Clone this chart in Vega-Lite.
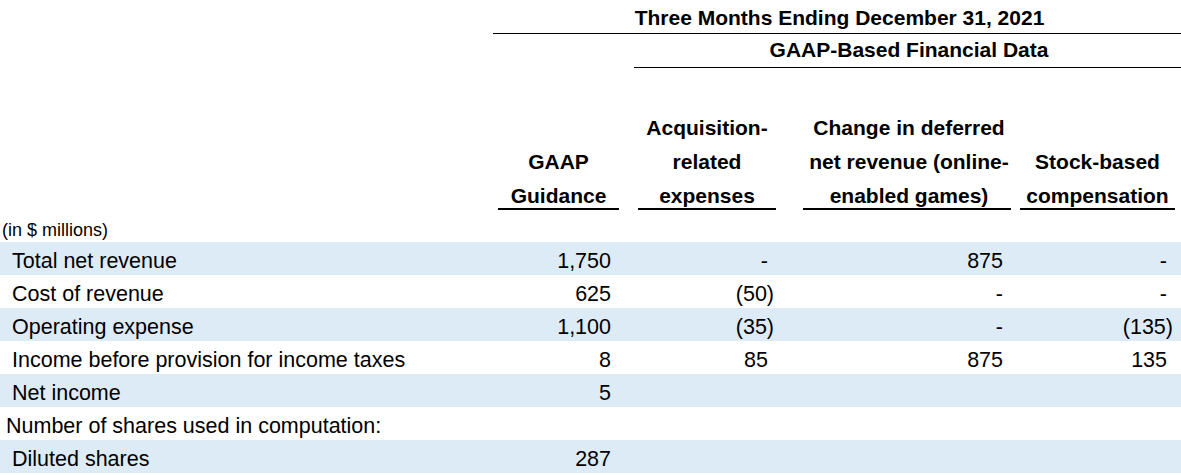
{
  "$schema": "https://vega.github.io/schema/vega-lite/v6.json",
  "width": 1181,
  "height": 475,
  "autosize": {"type": "none"},
  "padding": 0,
  "background": "white",
  "config": {"view": {"stroke": null}, "font": "Liberation Sans", "text": {"font": "Liberation Sans"}},
  "datasets": {
    "rows": [
      {"row": "Total net revenue", "i": 0, "level": 1},
      {"row": "Cost of revenue", "i": 1, "level": 1},
      {"row": "Operating expense", "i": 2, "level": 1},
      {"row": "Income before provision for income taxes", "i": 3, "level": 1},
      {"row": "Net income", "i": 4, "level": 1},
      {"row": "Number of shares used in computation:", "i": 5, "level": 0},
      {"row": "Diluted shares", "i": 6, "level": 1}
    ],
    "columns": [
      {"col": "GAAP Guidance", "left": 4, "right": 5, "center": 4.5},
      {"col": "Acquisition-related expenses", "left": 7, "right": 8, "center": 7.5},
      {"col": "Change in deferred net revenue (online-enabled games)", "left": 9, "right": 12, "center": 11},
      {"col": "Stock-based compensation", "left": 13, "right": 14, "center": 13.5}
    ],
    "cells": [
      {"row": "Total net revenue", "col": "GAAP Guidance", "v": 1750},
      {"row": "Total net revenue", "col": "Acquisition-related expenses", "v": 0},
      {"row": "Total net revenue", "col": "Change in deferred net revenue (online-enabled games)", "v": 875},
      {"row": "Total net revenue", "col": "Stock-based compensation", "v": 0},
      {"row": "Cost of revenue", "col": "GAAP Guidance", "v": 625},
      {"row": "Cost of revenue", "col": "Acquisition-related expenses", "v": -50},
      {"row": "Cost of revenue", "col": "Change in deferred net revenue (online-enabled games)", "v": 0},
      {"row": "Cost of revenue", "col": "Stock-based compensation", "v": 0},
      {"row": "Operating expense", "col": "GAAP Guidance", "v": 1100},
      {"row": "Operating expense", "col": "Acquisition-related expenses", "v": -35},
      {"row": "Operating expense", "col": "Change in deferred net revenue (online-enabled games)", "v": 0},
      {"row": "Operating expense", "col": "Stock-based compensation", "v": -135},
      {"row": "Income before provision for income taxes", "col": "GAAP Guidance", "v": 8},
      {"row": "Income before provision for income taxes", "col": "Acquisition-related expenses", "v": 85},
      {"row": "Income before provision for income taxes", "col": "Change in deferred net revenue (online-enabled games)", "v": 875},
      {"row": "Income before provision for income taxes", "col": "Stock-based compensation", "v": 135},
      {"row": "Net income", "col": "GAAP Guidance", "v": 5},
      {"row": "Diluted shares", "col": "GAAP Guidance", "v": 287}
    ],
    "heads": [
      {"col": "GAAP Guidance", "line": 5, "text": "GAAP"},
      {"col": "GAAP Guidance", "line": 6, "text": "Guidance"},
      {"col": "Acquisition-related expenses", "line": 4, "text": "Acquisition-"},
      {"col": "Acquisition-related expenses", "line": 5, "text": "related"},
      {"col": "Acquisition-related expenses", "line": 6, "text": "expenses"},
      {"col": "Change in deferred net revenue (online-enabled games)", "line": 4, "text": "Change in deferred"},
      {"col": "Change in deferred net revenue (online-enabled games)", "line": 5, "text": "net revenue (online-"},
      {"col": "Change in deferred net revenue (online-enabled games)", "line": 6, "text": "enabled games)"},
      {"col": "Stock-based compensation", "line": 5, "text": "Stock-based"},
      {"col": "Stock-based compensation", "line": 6, "text": "compensation"}
    ],
    "spans": [
      {"text": "Three Months Ending December 31, 2021", "line": 0, "mid": 10, "from": 3, "to": 15, "rule": 1},
      {"text": "GAAP-Based Financial Data", "line": 2, "mid": 11, "from": 6, "to": 15, "rule": 3}
    ],
    "notes": [
      {"text": "(in $ millions)", "line": 8}
    ]
  },
  "resolve": {"scale": {"y": "independent"}},
  "layer": [
    {
      "layer": [
        {
          "data": {"name": "spans"},
          "mark": {"type": "text", "fontSize": 21, "fontWeight": "bold", "align": "center", "baseline": "alphabetic", "color": "black"},
          "encoding": {
            "x": {"field": "mid", "type": "quantitative", "axis": null, "scale": {"domain": [0,1,2,3,4,5,6,7,8,9,10,11,12,13,14,15], "range": [0,6,12,493,498,619,634,638,776,803,839.5,909,1011,1020,1175,1181], "nice": false, "zero": false}},
            "y": {"field": "line", "type": "quantitative", "axis": null, "scale": {"domain": [0,1,2,3,4,5,6,7,8], "range": [25,33.5,57,67.5,135,169,203,209,236], "nice": false, "zero": false}},
            "text": {"field": "text"}
          }
        },
        {
          "data": {"name": "spans"},
          "mark": {"type": "rule", "color": "black", "strokeWidth": 1},
          "encoding": {
            "x": {"field": "from", "type": "quantitative", "axis": null},
            "x2": {"field": "to"},
            "y": {"field": "rule", "type": "quantitative", "axis": null}
          }
        },
        {
          "data": {"name": "heads"},
          "transform": [{"lookup": "col", "from": {"data": {"name": "columns"}, "key": "col", "fields": ["center"]}}],
          "mark": {"type": "text", "fontSize": 21, "fontWeight": "bold", "align": "center", "baseline": "alphabetic", "color": "black"},
          "encoding": {
            "x": {"field": "center", "type": "quantitative", "axis": null},
            "y": {"field": "line", "type": "quantitative", "axis": null},
            "text": {"field": "text"}
          }
        },
        {
          "data": {"name": "columns"},
          "mark": {"type": "rule", "color": "black", "strokeWidth": 2},
          "encoding": {
            "x": {"field": "left", "type": "quantitative", "axis": null},
            "x2": {"field": "right"},
            "y": {"datum": 7, "type": "quantitative", "axis": null}
          }
        },
        {
          "data": {"name": "notes"},
          "mark": {"type": "text", "fontSize": 18, "align": "left", "baseline": "alphabetic", "dx": 2, "color": "black"},
          "encoding": {
            "x": {"datum": 0, "type": "quantitative", "axis": null},
            "y": {"field": "line", "type": "quantitative", "axis": null},
            "text": {"field": "text"}
          }
        }
      ]
    },
    {
      "layer": [
        {
          "data": {"name": "rows"},
          "transform": [{"filter": "datum.i % 2 == 0"}],
          "mark": {"type": "rect", "color": "#DDEBF7"},
          "encoding": {
            "x": {"datum": 0, "type": "quantitative", "axis": null},
            "x2": {"datum": 15},
            "y": {"field": "row", "type": "nominal", "axis": null, "sort": null, "scale": {"type": "band", "domain": ["Total net revenue", "Cost of revenue", "Operating expense", "Income before provision for income taxes", "Net income", "Number of shares used in computation:", "Diluted shares"], "range": [242, 473], "paddingInner": 0, "paddingOuter": 0}}
          }
        },
        {
          "data": {"name": "rows"},
          "transform": [{"filter": "datum.level == 1"}],
          "mark": {"type": "text", "fontSize": 21.5, "align": "left", "baseline": "alphabetic", "dy": 9, "color": "black"},
          "encoding": {
            "x": {"datum": 2, "type": "quantitative", "axis": null},
            "y": {"field": "row", "type": "nominal", "axis": null},
            "text": {"field": "row"}
          }
        },
        {
          "data": {"name": "rows"},
          "transform": [{"filter": "datum.level == 0"}],
          "mark": {"type": "text", "fontSize": 21.5, "align": "left", "baseline": "alphabetic", "dy": 9, "color": "black"},
          "encoding": {
            "x": {"datum": 1, "type": "quantitative", "axis": null},
            "y": {"field": "row", "type": "nominal", "axis": null},
            "text": {"field": "row"}
          }
        },
        {
          "data": {"name": "cells"},
          "transform": [{"filter": "datum.v > 0"}, {"lookup": "col", "from": {"data": {"name": "columns"}, "key": "col", "fields": ["right"]}}],
          "mark": {"type": "text", "fontSize": 21.5, "align": "right", "baseline": "alphabetic", "dy": 9, "dx": -8, "color": "black"},
          "encoding": {
            "x": {"field": "right", "type": "quantitative", "axis": null},
            "y": {"field": "row", "type": "nominal", "axis": null},
            "text": {"field": "v", "type": "quantitative", "format": ","}
          }
        },
        {
          "data": {"name": "cells"},
          "transform": [{"filter": "datum.v < 0"}, {"lookup": "col", "from": {"data": {"name": "columns"}, "key": "col", "fields": ["right"]}}],
          "mark": {"type": "text", "fontSize": 21.5, "align": "right", "baseline": "alphabetic", "dy": 9, "dx": -2, "color": "black"},
          "encoding": {
            "x": {"field": "right", "type": "quantitative", "axis": null},
            "y": {"field": "row", "type": "nominal", "axis": null},
            "text": {"field": "v", "type": "quantitative", "format": "(,"}
          }
        },
        {
          "data": {"name": "cells"},
          "transform": [{"filter": "datum.v == 0"}, {"lookup": "col", "from": {"data": {"name": "columns"}, "key": "col", "fields": ["right"]}}],
          "mark": {"type": "text", "fontSize": 21.5, "align": "right", "baseline": "alphabetic", "dy": 9, "dx": -8, "color": "black", "text": "-"},
          "encoding": {
            "x": {"field": "right", "type": "quantitative", "axis": null},
            "y": {"field": "row", "type": "nominal", "axis": null}
          }
        }
      ]
    }
  ]
}
